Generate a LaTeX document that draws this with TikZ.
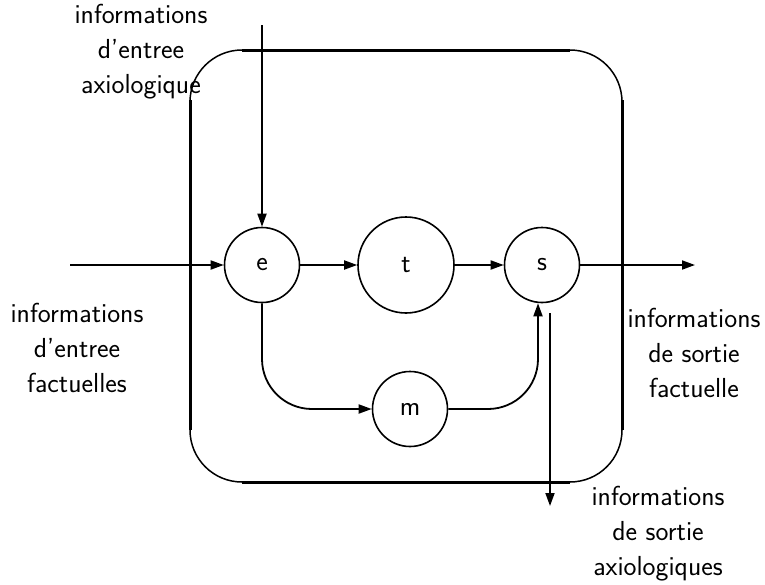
\documentclass[tikz,border=0pt]{standalone}
\usetikzlibrary{arrows.meta,calc}
\begin{document}
\begin{tikzpicture}[x=1pt,y=-1pt,
  every node/.style={font=\sffamily\fontsize{27.5}{35}\selectfont},
  proc/.style={circle,draw,line width=1.6pt,minimum size=75pt,inner sep=0pt},
  flow/.style={line width=1.8pt,-{Triangle[length=13pt,width=9pt]}},
  edge/.style={line width=3pt},
  corner/.style={line width=1.5pt},
  lbl/.style={align=center,inner sep=0pt}]
\useasboundingbox (0,0) rectangle (765,584);

% system boundary: thick straight sides, thin rounded corners
\draw[edge] (190,100) -- (190,430);
\draw[edge] (622,100) -- (622,430);
\draw[edge] (242,50) -- (570,50);
\draw[edge] (242,482) -- (570,482);
\draw[corner] (190,102) arc[start angle=180,end angle=90,x radius=52,y radius=-52];
\draw[corner] (570,50) arc[start angle=90,end angle=0,x radius=52,y radius=-52];
\draw[corner] (622,430) arc[start angle=0,end angle=-90,x radius=52,y radius=-52];
\draw[corner] (242,482) arc[start angle=-90,end angle=-180,x radius=52,y radius=-52];

% processing stages
\node[proc] (e) at (262,265) {e};
\node[proc,minimum size=96pt] (t) at (406,265) {t};
\node[proc] (s) at (542,265) {s};
\node[proc] (m) at (410,409) {m};

% free ends of the external flows
\coordinate (inF) at (70,265);
\coordinate (outF) at (695,265);
\coordinate (inA) at (262,25);
\coordinate (outAstart) at (550,313);
\coordinate (outA) at (550,506);

% flows
\draw[flow] (inF) -- (e.west);
\draw[flow] (e.east) -- (t.west);
\draw[flow] (t.east) -- (s.west);
\draw[flow] (s.east) -- (outF);
\draw[flow] (inA) -- (e.north);
\draw[flow,rounded corners=50pt] (e.south) |- (m.west);
\draw[flow,rounded corners=50pt] (m.east) -| ([xshift=-4pt]s.south);
\draw[flow] (outAstart) -- (outA);

% labels
\node[lbl] (lblInA) at (141,52) {informations\\d'entree\\axiologique};
\node[lbl] (lblInF) at (77,348) {informations\\d'entree\\factuelles};
\node[lbl] (lblOutF) at (694,353) {informations\\de sortie\\factuelle};
\node[lbl] (lblOutA) at (658,534) {informations\\de sortie\\axiologiques};
\end{tikzpicture}
\end{document}
